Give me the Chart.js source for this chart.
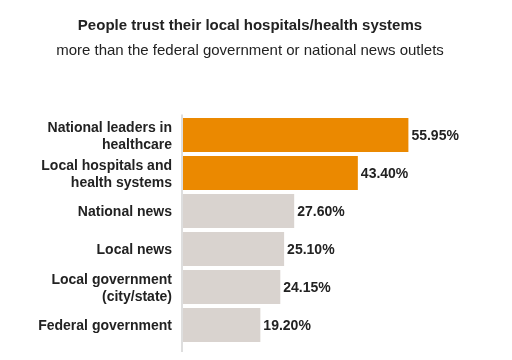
<!DOCTYPE html>
<html>
<head>
<meta charset="utf-8">
<script src="https://cdn.jsdelivr.net/npm/chart.js@4/dist/chart.umd.min.js"></script>
<style>
  html, body { margin: 0; padding: 0; background: #fff; }
  #wrap { width: 512px; height: 360px; }
</style>
</head>
<body>
<div id="wrap"><canvas id="c" width="512" height="360"></canvas></div>
<script>
const categories = [
  ["National leaders in", "healthcare"],
  ["Local hospitals and", "health systems"],
  "National news",
  "Local news",
  ["Local government", "(city/state)"],
  "Federal government"
];
const trustValues = [55.95, 43.40, 27.60, 25.10, 24.15, 19.20];
const valueLabels = ["55.95%", "43.40%", "27.60%", "25.10%", "24.15%", "19.20%"];
const highlighted = [true, true, false, false, false, false];

const ORANGE = '#EB8900';
const GREY = '#D9D3CF';
const TEXT = '#222222';
const FONT = 'Liberation Sans, Arial, Helvetica, sans-serif';

const valueLabelPlugin = {
  id: 'valueLabels',
  afterDatasetsDraw(chart) {
    const ctx = chart.ctx;
    const meta = chart.getDatasetMeta(0);
    ctx.save();
    ctx.font = 'bold 14px ' + FONT;
    ctx.fillStyle = TEXT;
    ctx.textAlign = 'left';
    ctx.textBaseline = 'middle';
    meta.data.forEach((bar, i) => {
      ctx.fillText(valueLabels[i], bar.x + 3, bar.y + 1);
    });
    ctx.restore();
  }
};

const axisLinePlugin = {
  id: 'axisLine',
  beforeDatasetsDraw(chart) {
    const { ctx, chartArea } = chart;
    ctx.save();
    ctx.strokeStyle = '#DEDEDE';
    ctx.lineWidth = 2;
    ctx.beginPath();
    ctx.moveTo(chartArea.left - 1, chartArea.top - 1.5);
    ctx.lineTo(chartArea.left - 1, chartArea.bottom + 8);
    ctx.stroke();
    ctx.restore();
  }
};

new Chart(document.getElementById('c'), {
  type: 'bar',
  data: {
    labels: categories,
    datasets: [{
      data: trustValues,
      backgroundColor: highlighted.map(h => h ? ORANGE : GREY),
      borderWidth: 0,
      barPercentage: 0.9,
      categoryPercentage: 1.0
    }]
  },
  options: {
    indexAxis: 'y',
    responsive: false,
    animation: false,
    devicePixelRatio: 1,
    layout: { padding: { left: 35, right: 47, top: 0, bottom: 16 } },
    plugins: {
      legend: { display: false },
      tooltip: { enabled: false },
      title: {
        display: true,
        text: 'People trust their local hospitals/health systems',
        color: TEXT,
        font: { family: FONT, size: 15, weight: 'bold' },
        padding: { top: 17, bottom: 7 },
        align: 'center'
      },
      subtitle: {
        display: true,
        text: 'more than the federal government or national news outlets',
        color: TEXT,
        font: { family: FONT, size: 15, weight: 'normal' },
        padding: { top: 0, bottom: 56 }
      }
    },
    scales: {
      x: {
        display: false,
        min: 0,
        max: 70
      },
      y: {
        afterFit(scale) {
          scale.width = 148;
          scale.paddingTop = 0;
          scale.paddingBottom = 0;
        },
        grid: { display: false, drawTicks: false },
        border: { display: false },
        ticks: {
          color: TEXT,
          padding: 11,
          labelOffset: 1.5,
          font: { family: FONT, size: 14, weight: 'bold', lineHeight: 1.2 }
        }
      }
    }
  },
  plugins: [axisLinePlugin, valueLabelPlugin]
});
</script>
</body>
</html>
